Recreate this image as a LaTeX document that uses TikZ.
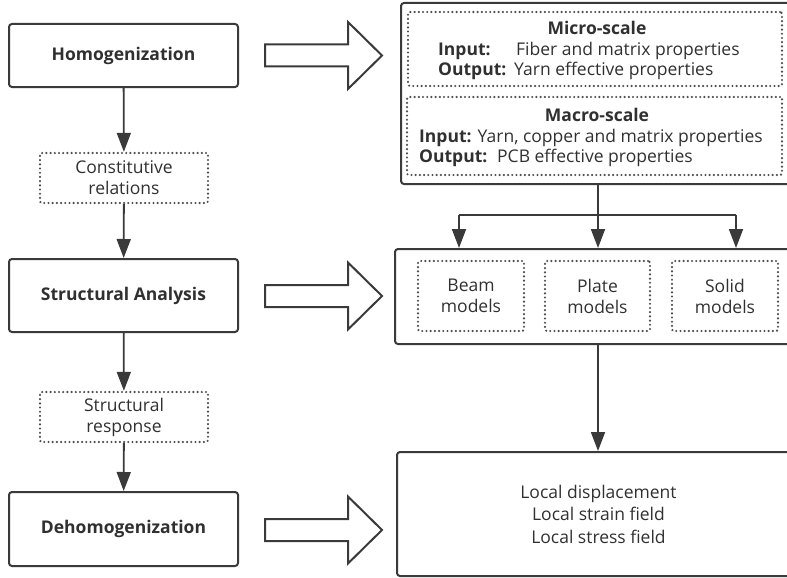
\documentclass[tikz,border=0pt]{standalone}
\usepackage{fontspec}
\setmainfont{Open Sans}
\usetikzlibrary{arrows.meta,calc}
\definecolor{ln}{HTML}{3A3A3A}
\definecolor{tx}{HTML}{303030}
\tikzset{
  mainbox/.style={draw=ln, line width=2pt, rounded corners=3pt, text=tx, font=\fontsize{17.5}{21}\selectfont\bfseries, align=center, inner sep=0pt},
  dotbox/.style={draw=ln!90, line width=2.4pt, line cap=round, dash pattern=on 0pt off 4.2pt, rounded corners=2pt, text=tx, font=\fontsize{17.5}{21}\selectfont, align=center, inner sep=0pt},
  bigbox/.style={draw=ln, line width=2pt, rounded corners=3pt, inner sep=0pt},
  conn/.style={draw=ln, line width=1.8pt, -{Triangle[length=19pt,width=14pt]}},
  plainline/.style={draw=ln, line width=1.8pt},
  hollow/.style={draw=ln, line width=2pt, line join=miter},
  txt/.style={text=tx, font=\fontsize{17.5}{21}\selectfont, inner sep=0pt},
  btxt/.style={text=tx, font=\fontsize{17.5}{21}\selectfont\bfseries, inner sep=0pt},
}
\begin{document}
\begin{tikzpicture}[x=1pt,y=-1pt]
\useasboundingbox (0,0) rectangle (787,578);

% left column
\node[mainbox, minimum width=229pt, minimum height=63pt] (homo) at (123.5,55.5) {Homogenization};
\node[dotbox, minimum width=168pt, minimum height=50pt] (const) at (124,178) {Constitutive\\relations};
\node[mainbox, minimum width=229pt, minimum height=73pt] (struct) at (123.5,295.5) {Structural Analysis};
\node[dotbox, minimum width=168pt, minimum height=50pt] (resp) at (124,417) {Structural\\response};
\node[mainbox, minimum width=229pt, minimum height=74pt] (dehomo) at (123.5,529) {Dehomogenization};

\draw[conn] (homo) -- (const);
\draw[conn] (const) -- (struct);
\draw[conn] (struct) -- (resp);
\draw[conn] (resp) -- (dehomo);

% right column boxes
\node[bigbox, minimum width=399pt, minimum height=181pt] (param) at (600.5,93.5) {};
\node[dotbox, minimum width=374pt, minimum height=74pt] (micro) at (595,49) {};
\node[dotbox, minimum width=375pt, minimum height=78pt] (macro) at (594.5,136) {};

\node[btxt] (microt) at (597,28) {Micro-scale};
\node[btxt, anchor=west] (mi1) at (438,51) {Input:};
\node[txt, anchor=west] (mi2) at (516,51) {Fiber and matrix properties};
\node[btxt, anchor=west] (mo1) at (438,71) {Output:};
\node[txt, anchor=west] (mo2) at (514,71) {Yarn effective properties};

\node[btxt] (macrot) at (597,115) {Macro-scale};
\node[txt, anchor=west] (ma1) at (419,138) {\textbf{Input:} Yarn, copper and matrix properties};
\node[btxt, anchor=west] (mao1) at (419,158) {Output:};
\node[txt, anchor=west] (mao2) at (497,158) {PCB effective properties};

\node[bigbox, minimum width=405pt, minimum height=95pt] (models) at (597.5,296.5) {};
\node[dotbox, minimum width=106pt, minimum height=70pt] (beam) at (471,296) {Beam\\models};
\node[dotbox, minimum width=105pt, minimum height=70pt] (plate) at (597.5,296) {Plate\\models};
\node[dotbox, minimum width=106pt, minimum height=70pt] (solid) at (725,296) {Solid\\models};

\node[bigbox, minimum width=403pt, minimum height=124pt, font=\fontsize{17.5}{22.5}\selectfont, text=tx, align=center] (local) at (598.5,514) {Local displacement\\Local strain field\\Local stress field};

% connectors on right
\coordinate (ja) at (459,215);
\coordinate (jb) at (598,215);
\coordinate (jc) at (736,215);
\draw[plainline] (jb |- param.south) -- (jb);
\draw[plainline] (ja) -- (jc);
\draw[conn] (ja) -- (ja |- models.north);
\draw[conn] (jb) -- (jb |- models.north);
\draw[conn] (jc) -- (jc |- models.north);
\draw[conn] (jb |- models.south) -- (jb |- local.north);

% big hollow arrows
\foreach \cy in {55.5,296,530}{
  \draw[hollow] (265,\cy-11) -- (348,\cy-11) -- (348,\cy-33.5) -- (382,\cy) -- (348,\cy+33.5) -- (348,\cy+11) -- (265,\cy+11) -- cycle;
}
\end{tikzpicture}
\end{document}
